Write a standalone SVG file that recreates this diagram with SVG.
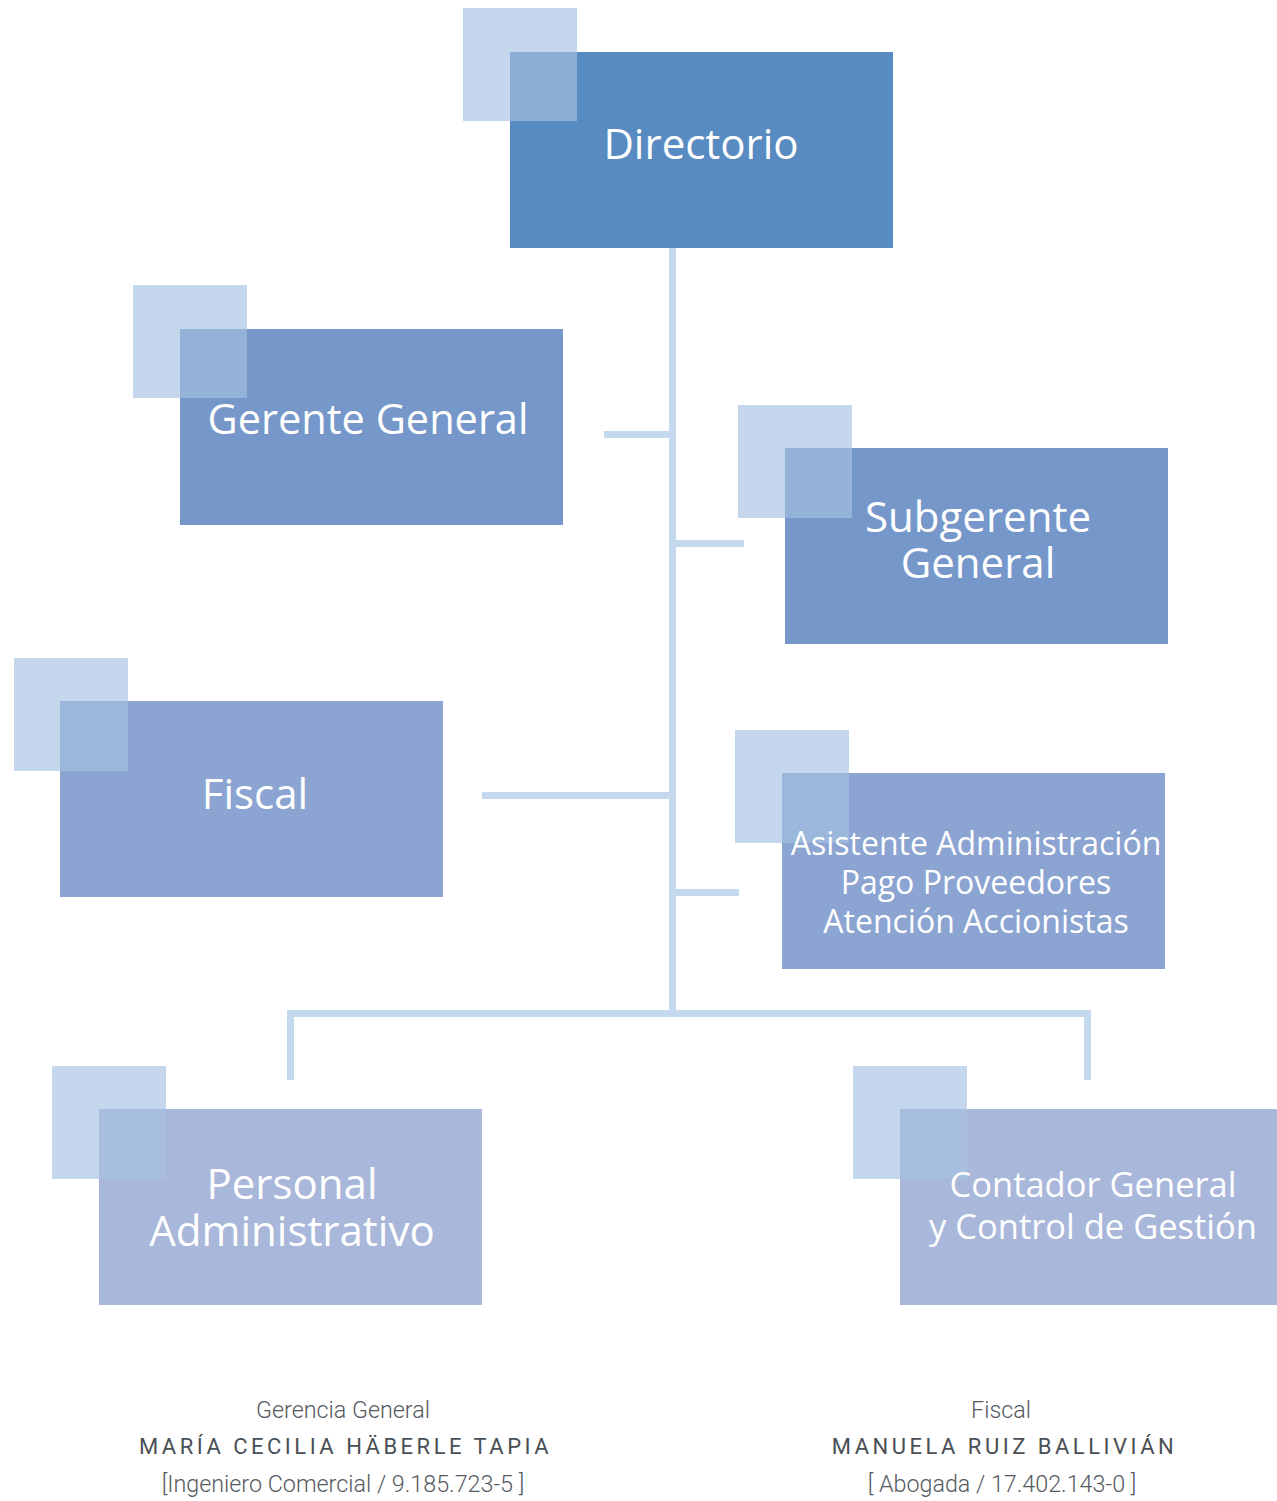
<svg xmlns="http://www.w3.org/2000/svg" width="1277" height="1501" viewBox="0 0 1277 1501">
<style>
.c1{fill:#578BC1}.c2{fill:#7597C9}.c3{fill:#8BA4D1}.c4{fill:#A9B8DA}
.sq{fill:#A6C2E2;fill-opacity:0.65}
.lbl{font-family:"Open Sans","Noto Sans",sans-serif;fill:#FFFFFF;text-anchor:middle}
.conn{stroke:#C5D9EE;stroke-width:7;fill:none}
.cap{font-family:Roboto,"Liberation Sans",sans-serif;fill:#555A60;text-anchor:middle;font-weight:300;font-size:23.3px}
.name{font-family:Roboto,"Liberation Sans",sans-serif;fill:#4A4F55;text-anchor:middle;font-size:22px;letter-spacing:3.5px}
</style>
<rect width="1277" height="1501" fill="#FFFFFF"/>
<g id="connectors">
<line class="conn" x1="672.5" y1="248" x2="672.5" y2="1013.5"/>
<line class="conn" x1="604" y1="434.5" x2="672.5" y2="434.5"/>
<line class="conn" x1="672.5" y1="543.5" x2="744" y2="543.5"/>
<line class="conn" x1="482" y1="795.5" x2="672.5" y2="795.5"/>
<line class="conn" x1="672.5" y1="892.5" x2="739" y2="892.5"/>
<polyline class="conn" points="290.5,1080 290.5,1013.5 1087.5,1013.5 1087.5,1080"/>
</g>
<g id="directorio">
<rect class="c1" x="510" y="52" width="383" height="196"/>
<rect class="sq" x="463" y="8" width="114" height="113"/>
<text class="lbl" x="701" y="159" font-size="42">Directorio</text>
</g>
<g id="gerente-general">
<rect class="c2" x="180" y="329" width="383" height="196"/>
<rect class="sq" x="133" y="285" width="114" height="113"/>
<text class="lbl" x="368" y="434" font-size="41.5">Gerente General</text>
</g>
<g id="subgerente-general">
<rect class="c2" x="785" y="448" width="383" height="196"/>
<rect class="sq" x="738" y="405" width="114" height="113"/>
<text class="lbl" x="978" y="532" font-size="42">Subgerente</text>
<text class="lbl" x="978" y="578" font-size="42">General</text>
</g>
<g id="fiscal">
<rect class="c3" x="60" y="701" width="383" height="196"/>
<rect class="sq" x="14" y="658" width="114" height="113"/>
<text class="lbl" x="255" y="809" font-size="42">Fiscal</text>
</g>
<g id="asistente">
<rect class="c3" x="782" y="773" width="383" height="196"/>
<rect class="sq" x="735" y="730" width="114" height="113"/>
<text class="lbl" x="976" y="855" font-size="32">Asistente Administración</text>
<text class="lbl" x="976" y="894" font-size="32">Pago Proveedores</text>
<text class="lbl" x="976" y="933" font-size="32">Atención Accionistas</text>
</g>
<g id="personal-administrativo">
<rect class="c4" x="99" y="1109" width="383" height="196"/>
<rect class="sq" x="52" y="1066" width="114" height="113"/>
<text class="lbl" x="292" y="1199" font-size="42">Personal</text>
<text class="lbl" x="292" y="1246" font-size="42">Administrativo</text>
</g>
<g id="contador-general">
<rect class="c4" x="900" y="1109" width="377" height="196"/>
<rect class="sq" x="853" y="1066" width="114" height="113"/>
<text class="lbl" x="1093" y="1197" font-size="34.5">Contador General</text>
<text class="lbl" x="1093" y="1239" font-size="34.5">y Control de Gestión</text>
</g>
<g id="firma-gerencia">
<text class="cap" x="343" y="1418">Gerencia General</text>
<text class="name" x="345.5" y="1454">MARÍA CECILIA HÄBERLE TAPIA</text>
<text class="cap" x="343" y="1492">[Ingeniero Comercial / 9.185.723-5 ]</text>
</g>
<g id="firma-fiscal">
<text class="cap" x="1001" y="1418">Fiscal</text>
<text class="name" x="1004.5" y="1454">MANUELA RUIZ BALLIVIÁN</text>
<text class="cap" x="1002" y="1492">[ Abogada / 17.402.143-0 ]</text>
</g>
</svg>
